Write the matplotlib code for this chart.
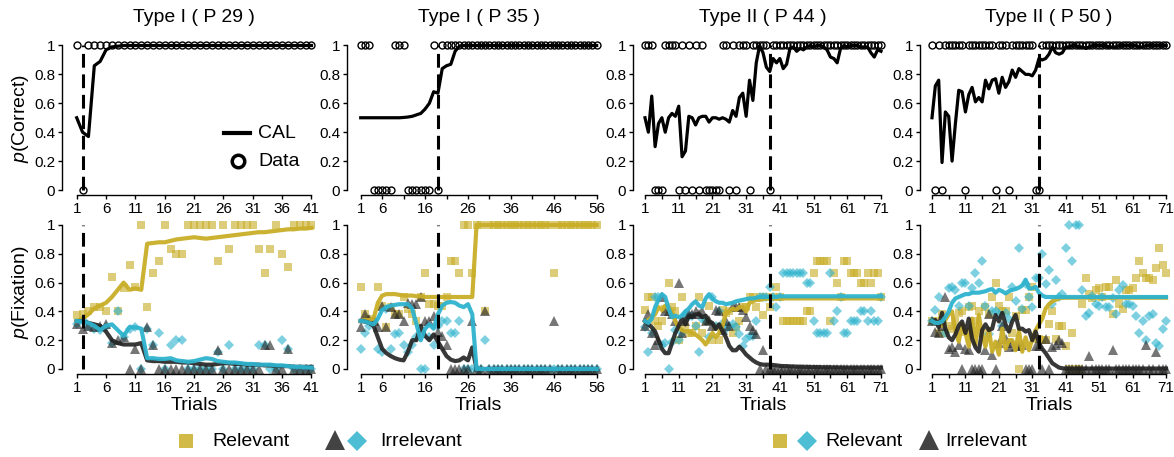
import numpy as np
import matplotlib
matplotlib.use("Agg")
import matplotlib.pyplot as plt

plt.rcParams["font.family"] = "Liberation Sans"
plt.rcParams["mathtext.fontset"] = "custom"
plt.rcParams["mathtext.it"] = "Liberation Sans:italic"
plt.rcParams["mathtext.rm"] = "Liberation Sans"

GOLD = "#C9AE28"
CYAN = "#2FB3CE"
DARK = "#222222"

titles = ["Type I ( P 29 )", "Type I ( P 35 )", "Type II ( P 44 )", "Type II ( P 50 )"]
crit_trial = [2, 19, 38, 33]
xlabels_shown = [
    [1, 6, 11, 16, 21, 26, 31, 36, 41],
    [1, 6, 16, 26, 36, 46, 56],
    [1, 11, 21, 31, 41, 51, 61, 71],
    [1, 11, 21, 31, 41, 51, 61, 71],
]

# ---------------- P 29 (41 trials)
correct_p29 = [1, 0, 1, 1, 1, 1, 1, 1, 1, 1,
               1, 1, 1, 1, 1, 1, 1, 1, 1, 1,
               1, 1, 1, 1, 1, 1, 1, 1, 1, 1,
               1, 1, 1, 1, 1, 1, 1, 1, 1, 1,
               1]
cal_p29 = [.50, .40, .37, .86, .89, .97, .99, .995, 1, 1,
           1, 1, 1, 1, 1, 1, 1, 1, 1, 1,
           1, 1, 1, 1, 1, 1, 1, 1, 1, 1,
           1, 1, 1, 1, 1, 1, 1, 1, 1, 1,
           1]
sq_p29 = [.375, .38, .40, .43, .43, .40, .64, .40, .56, .72,
          .57, 1, .43, .67, .75, 1, .83, .80, .80, 1,
          1, 1, 1, 1, .75, 1, .83, 1, 1, 1,
          1, .83, .67, .83, 1, .80, .71, 1, 1, 1,
          1]
tri_p29 = [.31, .28, .30, .29, .30, .31, .18, .20, .22, 0,
           .14, 0, .29, .17, 0, 0, 0, 0, 0, 0,
           0, 0, 0, 0, .13, 0, 0, 0, 0, 0,
           0, 0, .17, .17, 0, 0, .14, 0, 0, 0,
           0]
dia_p29 = [.31, .34, .30, .28, .27, .29, .18, .40, .22, .28,
           .29, 0, .28, .17, .25, 0, .17, .20, .20, 0,
           0, 0, 0, 0, .12, 0, .17, 0, 0, 0,
           0, .17, .17, 0, 0, .20, .14, 0, 0, 0,
           0]
gold_p29 = [.333, .35, .38, .42, .44, .46, .50, .55, .60, .55,
            .56, .55, .87, .875, .88, .88, .89, .90, .905, .91,
            .915, .91, .905, .91, .915, .92, .925, .93, .935, .94,
            .945, .95, .95, .955, .96, .965, .97, .97, .975, .975,
            .98]
black_p29 = [.333, .333, .32, .31, .30, .26, .20, .18, .17, .17,
             .17, .18, .06, .055, .055, .05, .05, .05, .045, .045,
             .04, .035, .03, .03, .035, .04, .04, .035, .035, .03,
             .03, .03, .025, .025, .02, .02, .02, .015, .015, .015,
             .015]
cyan_p29 = [.333, .33, .32, .30, .27, .30, .31, .27, .23, .29,
            .29, .28, .075, .075, .07, .07, .075, .06, .055, .05,
            .055, .065, .075, .07, .055, .05, .045, .045, .04, .035,
            .035, .03, .03, .03, .025, .025, .02, .015, .015, .012,
            .01]

# ---------------- P 35 (56 trials)
correct_p35 = [1, 1, 1, 0, 0, 0, 0, 0, 1, 1,
               1, 0, 0, 0, 0, 0, 0, 1, 0, 1,
               1, 1, 1, 1, 1, 1, 1, 1, 1, 1,
               1, 1, 1, 1, 1, 1, 1, 1, 1, 1,
               1, 1, 1, 1, 1, 1, 1, 1, 1, 1,
               1, 1, 1, 1, 1, 1]
cal_p35 = [.5, .5, .5, .5, .5, .5, .5, .5, .5, .5,
           .502, .505, .51, .52, .53, .56, .60, .68, .67, .84,
           .86, .87, .96, .995, 1, 1, 1, 1, 1, 1,
           1, 1, 1, 1, 1, 1, 1, 1, 1, 1,
           1, 1, 1, 1, 1, 1, 1, 1, 1, 1,
           1, 1, 1, 1, 1, 1]
sq_p35 = [.57, .38, .35, .33, .57, .44, .29, .43, .38, .38,
          .50, .42, .38, .33, .50, .67, .45, .45, .44, .44,
          .50, .75, .75, .67, 1, 1, .67, 1, 1, .40,
          1, 1, 1, 1, 1, 1, 1, 1, 1, 1,
          1, 1, 1, 1, 1, .67, 1, 1, 1, 1,
          1, 1, 1, 1, 1, 1]
tri_p35 = [.29, .38, .35, .33, .29, .44, .29, .43, .38, .38,
           .33, .46, .45, .45, .50, .33, .33, .37, .26, .23,
           .17, 0, 0, 0, 0, 0, .33, 0, 0, .40,
           0, 0, 0, 0, 0, 0, 0, 0, 0, 0,
           0, 0, 0, 0, 0, .33, 0, 0, 0, 0,
           0, 0, 0, 0, 0, 0]
dia_p35 = [.14, .25, .30, .33, .14, .12, .42, .14, .24, .25,
           .17, .12, .17, .22, 0, 0, .22, .17, .30, .33,
           .33, .25, .25, .33, 0, 0, 0, 0, 0, .20,
           0, 0, 0, 0, 0, 0, 0, 0, 0, 0,
           0, 0, 0, 0, 0, 0, 0, 0, 0, 0,
           0, 0, 0, 0, 0, 0]
gold_p35 = [.333, .34, .34, .35, .46, .51, .52, .52, .52, .515,
            .51, .51, .51, .505, .505, .50, .50, .50, .50, .50,
            .50, .50, .50, .50, .50, .50, .50, 1, 1, 1,
            1, 1, 1, 1, 1, 1, 1, 1, 1, 1,
            1, 1, 1, 1, 1, 1, 1, 1, 1, 1,
            1, 1, 1, 1, 1, 1]
black_p35 = [.333, .33, .32, .30, .22, .14, .11, .09, .075, .065,
             .06, .12, .20, .20, .30, .23, .20, .24, .19, .14,
             .09, .065, .055, .06, .08, .06, .15, 0, 0, 0,
             0, 0, 0, 0, 0, 0, 0, 0, 0, 0,
             0, 0, 0, 0, 0, 0, 0, 0, 0, 0,
             0, 0, 0, 0, 0, 0]
cyan_p35 = [.333, .33, .32, .31, .35, .41, .43, .44, .445, .45,
            .45, .45, .42, .31, .20, .28, .31, .28, .38, .44,
            .46, .465, .46, .44, .43, .45, .38, 0, 0, 0,
            0, 0, 0, 0, 0, 0, 0, 0, 0, 0,
            0, 0, 0, 0, 0, 0, 0, 0, 0, 0,
            0, 0, 0, 0, 0, 0]

# ---------------- P 44 (71 trials)
correct_p44 = [1, 1, 1, 0, 0, 0, 1, 1, 1, 1,
               0, 1, 0, 1, 0, 1, 0, 1, 0, 0,
               0, 0, 0, 1, 1, 0, 1, 0, 1, 1,
               1, 0, 1, 1, 1, 1, 1, 0, 1, 1,
               1, 1, 1, 1, 1, 1, 1, 1, 1, 1,
               1, 1, 1, 1, 1, 1, 1, 1, 1, 1,
               1, 1, 1, 1, 1, 1, 1, 1, 1, 1, 1]
cal_p44 = [.50, .40, .65, .30, .46, .50, .40, .50, .53, .51,
           .58, .23, .27, .51, .50, .45, .50, .51, .51, .47,
           .50, .50, .49, .50, .49, .47, .55, .51, .64, .67,
           .51, .76, .62, .88, 1.0, .95, .85, .82, .91, .88,
           .91, .84, .87, .98, .99, .96, .98, .97, .99, 1.0,
           .99, 1.0, 1.0, .99, .97, .92, .91, .88, .98, 1.0,
           .99, 1.0, 1.0, 1.0, .99, .99, .99, .95, .92, .97, .96]
sq_p44 = [.41, .50, .50, .33, .30, .33, .42, .60, .43, .40,
          .20, .50, .29, .25, .25, .30, .50, .25, .33, .44,
          .20, .29, .20, .41, .39, .40, .25, .29, .33, .43,
          .43, .50, .50, .43, .50, .375, .50, .43, .50, .57,
          .50, .33, .33, .33, .33, .33, .33, .33, .40, .40,
          .67, .75, .75, .75, .75, .33, .67, .60, .50, .75,
          .75, .67, .67, .67, .60, .60, .67, .60, .67, .67, .50]
tri_p44 = [.30, .38, .25, .17, .20, .50, .40, .40, .38, .33,
           .60, .25, .33, .38, .38, .40, .38, .40, .33, .34,
           .30, .41, .40, .27, .33, .30, .44, .43, .43, .41,
           .36, .30, .27, .24, 0, .13, 0, 0, 0, 0,
           0, 0, 0, 0, 0, 0, 0, 0, 0, 0,
           0, 0, 0, 0, 0, 0, 0, 0, 0, 0,
           0, 0, 0, 0, 0, 0, 0, 0, 0, 0, 0]
dia_p44 = [.29, .12, .25, .50, .50, .17, .18, 0, .19, .27,
           .20, .25, .38, .37, .37, .30, .12, .35, .33, .22,
           .50, .30, .40, .32, .28, .30, .31, .29, .24, .16,
           .21, .23, .23, .33, .50, .50, .50, .57, .50, .43,
           .50, .67, .67, .67, .67, .67, .67, .67, .60, .60,
           .33, .25, .25, .25, .25, .67, .33, .40, .50, .25,
           .25, .33, .33, .33, .40, .40, .33, .40, .33, .33, .50]
gold_p44 = [.333, .34, .36, .38, .43, .41, .44, .43, .40, .33,
            .29, .27, .26, .26, .25, .24, .22, .20, .17, .21,
            .25, .22, .25, .30, .39, .40, .42, .41, .43, .43,
            .40, .46, .47, .48, .48, .485, .49, .49, .49, .49,
            .49, .49, .49, .49, .49, .49, .49, .49, .49, .49,
            .49, .49, .49, .49, .49, .49, .49, .49, .49, .49,
            .49, .49, .49, .49, .49, .49, .49, .49, .49, .49, .49]
black_p44 = [.333, .31, .29, .26, .20, .14, .11, .11, .18, .25,
             .30, .35, .31, .37, .36, .38, .38, .36, .37, .33,
             .32, .28, .31, .26, .22, .16, .13, .13, .155, .13,
             .10, .08, .06, .045, .035, .03, .03, .03, .028, .025,
             .022, .02, .02, .018, .018, .016, .016, .015, .015, .014,
             .014, .013, .013, .012, .012, .012, .011, .011, .011, .01,
             .01, .01, .01, .01, .01, .01, .01, .01, .01, .01, .01]
cyan_p44 = [.333, .32, .35, .43, .48, .52, .50, .42, .36, .37,
            .36, .37, .40, .42, .45, .47, .44, .43, .49, .52,
            .49, .47, .46, .46, .45, .455, .46, .47, .475, .48,
            .485, .49, .49, .495, .50, .50, .50, .50, .50, .50,
            .505, .505, .505, .505, .505, .505, .505, .505, .505, .505,
            .505, .505, .505, .505, .505, .505, .505, .505, .505, .505,
            .505, .505, .505, .505, .505, .505, .505, .505, .505, .505, .505]

# ---------------- P 50 (71 trials)
correct_p50 = [1, 0, 1, 0, 1, 1, 1, 1, 1, 1,
               0, 1, 1, 1, 1, 1, 1, 1, 1, 0,
               1, 1, 1, 0, 1, 1, 1, 1, 1, 1,
               1, 0, 0, 1, 1, 1, 1, 1, 1, 1,
               1, 1, 1, 1, 1, 1, 1, 1, 1, 1,
               1, 1, 1, 1, 1, 1, 1, 1, 1, 1,
               1, 1, 1, 1, 1, 1, 1, 1, 1, 1, 1]
cal_p50 = [.50, .72, .76, .19, .54, .51, .20, .46, .69, .68,
           .54, .66, .71, .61, .64, .61, .76, .70, .76, .77,
           .67, .78, .71, .75, .83, .78, .84, .82, .80, .80,
           .79, .83, .91, .90, .91, .94, .99, .95, .94, .95,
           .99, .99, 1, 1, .99, .99, .98, .99, 1, 1,
           1, 1, 1, .99, .99, .99, 1, 1, 1, 1,
           1, 1, .99, .99, 1, 1, 1, 1, 1, 1, 1]
sq_p50 = [.33, .33, .25, .38, .25, .30, .28, .33, .39, .40,
          .26, .43, .44, .33, .40, .25, .43, .38, .50, .60,
          .44, .40, .40, .50, .25, .37, 0, .41, .41, .50,
          .57, .21, .21, .20, .20, .31, .40, .21, .30, .30,
          .16, 0, .25, 0, 0, .45, .63, .52, .49, .55,
          .56, .50, .57, .57, .38, .62, .45, .42, .55, .55,
          .56, .63, .75, .67, .63, .63, .62, .70, .84, .72, .67]
tri_p50 = [.33, .26, .25, .30, .50, .14, .15, .12, .17, 0,
           .14, .13, 0, 0, 0, 0, .13, .38, .10, 0,
           .18, .30, .21, .15, .18, .16, .16, .17, 0, 0,
           0, .16, .16, 0, .21, 0, .15, .17, .20, .18,
           0, 0, 0, 0, 0, 0, 0, .09, 0, 0,
           0, 0, 0, 0, .13, 0, 0, 0, 0, 0,
           0, 0, 0, 0, .17, 0, 0, .12, 0, 0, 0]
dia_p50 = [.33, .41, .50, .32, .25, .56, .57, .55, .44, .60,
           .60, .44, .56, .67, .60, .75, .44, .24, .40, .40,
           .38, .30, .39, .35, .57, .47, .84, .42, .59, .50,
           .43, .63, .63, .80, .59, .69, .45, .62, .50, .52,
           .84, 1.0, .75, 1.0, 1.0, .55, .37, .39, .51, .45,
           .44, .50, .43, .43, .49, .38, .55, .58, .45, .45,
           .44, .37, .25, .33, .20, .37, .38, .18, .16, .28, .33]
gold_p50 = [.333, .33, .32, .30, .34, .38, .40, .27, .19, .31,
            .25, .155, .35, .17, .375, .24, .155, .28, .12, .19,
            .10, .28, .14, .20, .20, .13, .27, .12, .22, .13,
            .21, .27, .31, .35, .42, .45, .47, .48, .49, .495,
            .495, .495, .495, .495, .495, .495, .495, .495, .495, .495,
            .495, .495, .495, .495, .495, .495, .495, .495, .495, .495,
            .495, .495, .495, .495, .495, .495, .495, .495, .495, .495, .495]
black_p50 = [.333, .34, .29, .39, .28, .22, .20, .24, .30, .33,
             .25, .35, .21, .15, .12, .27, .31, .27, .28, .375,
             .33, .39, .31, .26, .33, .375, .28, .28, .26, .27,
             .20, .26, .18, .14, .11, .075, .04, .025, .01, .005,
             .003, .003, .003, .003, .003, .003, .003, .003, .003, .003,
             .003, .003, .003, .003, .003, .003, .003, .003, .003, .003,
             .003, .003, .003, .003, .003, .003, .003, .003, .003, .003, .003]
cyan_p50 = [.333, .32, .32, .33, .36, .40, .46, .49, .50, .51,
            .52, .52, .53, .53, .53, .535, .54, .55, .555, .53,
            .55, .54, .525, .54, .55, .555, .565, .58, .62, .56,
            .56, .57, .53, .51, .50, .50, .50, .50, .50, .50,
            .50, .50, .50, .50, .50, .50, .50, .50, .50, .50,
            .50, .50, .50, .50, .50, .50, .50, .50, .50, .50,
            .50, .50, .50, .50, .50, .50, .50, .50, .50, .50, .50]

panels = [
    (correct_p29, cal_p29, sq_p29, tri_p29, dia_p29, gold_p29, black_p29, cyan_p29),
    (correct_p35, cal_p35, sq_p35, tri_p35, dia_p35, gold_p35, black_p35, cyan_p35),
    (correct_p44, cal_p44, sq_p44, tri_p44, dia_p44, gold_p44, black_p44, cyan_p44),
    (correct_p50, cal_p50, sq_p50, tri_p50, dia_p50, gold_p50, black_p50, cyan_p50),
]

W, H = 1174, 457
fig = plt.figure(figsize=(W / 100, H / 100), dpi=100)

# pixel layout: x of first trial, x of last trial, x of y-axis line
col_px = [(76.7, 311.5, 62), (360.7, 596.7, 347), (645, 881, 633), (932, 1166, 920)]
# y of value 1, y of value 0, y of x-axis line, top of axes
row_px = [(45.5, 190, 195, 36), (225, 369, 374, 216)]


def setup(ax, n, col, row, shown):
    a, b, c = col
    y1, y0, yb, ytop = row
    sx = (b - a) / (n - 1)
    right = b + 7
    ax.set_position([c / W, 1 - yb / H, (right - c) / W, (yb - ytop) / H])
    ax.set_xlim(1 - (a - c) / sx, n + (right - b) / sx)
    sy = y0 - y1
    ax.set_ylim(-(yb - y0) / sy, 1 + (y1 - ytop) / sy)
    for s in ["top", "right"]:
        ax.spines[s].set_visible(False)
    for s in ["left", "bottom"]:
        ax.spines[s].set_linewidth(1.0)
    ax.spines["left"].set_bounds(0, 1)
    ax.spines["bottom"].set_bounds(1, n)
    ticks = np.arange(1, n + 1, 5)
    ax.set_xticks(ticks)
    ax.set_xticklabels([str(t) if t in shown else "" for t in ticks])
    ax.set_yticks([0, .2, .4, .6, .8, 1])
    ax.set_yticklabels(["0", "0.2", "0.4", "0.6", "0.8", "1"])
    ax.tick_params(axis="both", length=3, width=1, labelsize=11)
    ax.tick_params(axis="y", pad=2)
    ax.tick_params(axis="x", pad=2)
    ax.patch.set_visible(False)


for i, (correct, cal, sq, tri, dia, gl, bl, cl) in enumerate(panels):
    n = len(correct)
    trials = np.arange(1, n + 1)
    crit = crit_trial[i]

    ax = fig.add_axes([0, 0, 1, 1])
    setup(ax, n, col_px[i], row_px[0], xlabels_shown[i])
    ax.plot(trials, correct, "o", mfc="none", mec="black", ms=5, mew=1.0, clip_on=False)
    ax.plot(trials, cal, color="black", lw=2.3)
    ax.plot([crit, crit], [0, 1], color="black", lw=2.2, dashes=(4.5, 2.2))

    bx = fig.add_axes([0, 0, 1, 1])
    setup(bx, n, col_px[i], row_px[1], xlabels_shown[i])
    bx.plot(trials, sq, "s", color=GOLD, alpha=0.62, ms=5.6, mew=0, clip_on=False)
    bx.plot(trials, dia, "D", color=CYAN, alpha=0.62, ms=5.0, mew=0, clip_on=False)
    bx.plot(trials, tri, "^", color=DARK, alpha=0.62, ms=7, mew=0, clip_on=False)
    bx.plot(trials, gl, color=GOLD, lw=3, alpha=0.95)
    bx.plot(trials, bl, color=DARK, lw=3, alpha=0.9)
    bx.plot(trials, cl, color=CYAN, lw=3, alpha=0.95)
    bx.plot([crit, crit], [0, 1], color="black", lw=2.2, dashes=(4.5, 2.2))

    a, b, c = col_px[i]
    cx = (a + b) / 2
    fig.text(cx / W, 1 - 17 / H, titles[i], ha="center", va="center", fontsize=14)
    fig.text(cx / W, 1 - 405 / H, "Trials", ha="center", va="center", fontsize=14)

fig.text(21 / W, 1 - 118 / H, "$p$(Correct)", rotation=90, ha="center", va="center", fontsize=14)
fig.text(21 / W, 1 - 292 / H, "$p$(Fixation)", rotation=90, ha="center", va="center", fontsize=14)

# legends
ov = fig.add_axes([0, 0, 1, 1])
ov.set_xlim(0, W)
ov.set_ylim(H, 0)
ov.axis("off")
ov.plot([224, 250], [133, 133], color="black", lw=3)
ov.text(258, 133, "CAL", fontsize=14, va="center")
ov.plot([238], [161], "o", mfc="none", mec="black", ms=9, mew=2.5)
ov.text(258, 161, "Data", fontsize=14, va="center")

ov.plot([186], [441], "s", color=GOLD, alpha=0.85, ms=10, mew=0)
ov.text(212, 441, "Relevant", fontsize=14, va="center")
ov.plot([335], [440], "^", color=DARK, alpha=0.85, ms=14.5, mew=0)
ov.plot([357], [441], "D", color=CYAN, alpha=0.85, ms=10, mew=0)
ov.text(380, 441, "Irrelevant", fontsize=14, va="center")

ov.plot([780], [441], "s", color=GOLD, alpha=0.85, ms=10.5, mew=0)
ov.plot([807], [441], "D", color=CYAN, alpha=0.85, ms=10, mew=0)
ov.text(825, 441, "Relevant", fontsize=14, va="center")
ov.plot([929], [440], "^", color=DARK, alpha=0.85, ms=15, mew=0)
ov.text(945, 441, "Irrelevant", fontsize=14, va="center")

fig.savefig("out.png", dpi=100)
